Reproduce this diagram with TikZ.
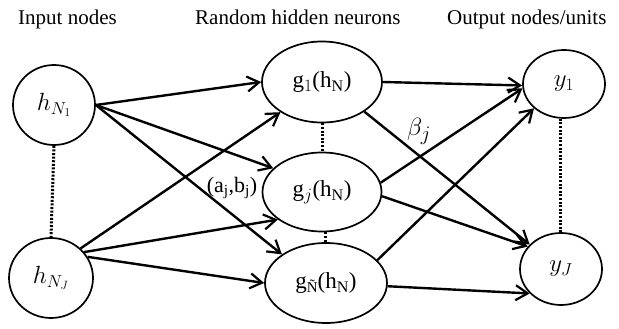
\documentclass[tikz,border=0pt]{standalone}
\usepackage{fontspec}
\setmainfont{Liberation Serif}
\usetikzlibrary{arrows.meta,shapes.geometric}
\begin{document}
\begin{tikzpicture}[x=1pt,y=-1pt,
  title/.style={inner sep=0pt,anchor=base west,font=\fontsize{21}{24}\selectfont},
  neuron/.style={draw,line width=1.7pt,ellipse,inner sep=0pt,font=\fontsize{23}{26}\selectfont},
  conn/.style={line width=2.4pt,-{Straight Barb[length=12pt,width=15pt,line width=2.2pt]}},
  dots/.style={line width=3pt,dash pattern=on 2pt off 1.6pt},
  lbl/.style={inner sep=0pt,font=\fontsize{23}{26}\selectfont}]
\useasboundingbox (0,0) rectangle (619,329);
\node[title] (t1) at (18,25) {Input nodes};
\node[title] (t2) at (195,25) {Random hidden neurons};
\node[title] (t3) at (447,25) {Output nodes/units};

\node[neuron,minimum width=82pt,minimum height=80pt] (h1) at (54,105) {\fontsize{26}{28}\selectfont$h_{N_1}$};
\node[neuron,minimum width=84pt,minimum height=80pt] (hJ) at (51,278) {\fontsize{26}{28}\selectfont$h_{N_J}$};

\node[neuron,minimum width=120pt,minimum height=81pt] (g1) at (322,82) {g$_1$(h$_{\mathrm{N}}$)};
\node[neuron,minimum width=119pt,minimum height=79pt] (gj) at (322,192) {g$_j$(h$_{\mathrm{N}}$)};
\node[neuron,minimum width=122pt,minimum height=80pt] (gN) at (326,283) {g\raisebox{-4pt}{\fontsize{15}{15}\selectfont Ñ}(h$_{\mathrm{N}}$)};

\node[neuron,minimum width=82pt,minimum height=68pt] (y1) at (564,84) {\fontsize{26}{28}\selectfont$y_1$};
\node[neuron,minimum width=82pt,minimum height=72pt] (yJ) at (561,269) {\fontsize{26}{28}\selectfont$y_J$};

\draw[dots] (h1.south) -- (hJ.north);
\draw[dots] (g1.south) -- (gj.north);
\draw[dots] ([xshift=3pt]gj.south) -- ([xshift=-1pt]gN.north);
\draw[dots] ([xshift=-4pt]y1.south) -- ([xshift=-1pt]yJ.north);

\draw[conn] (h1.east) -- (g1.west);
\draw[conn] (h1.east) -- (gj.154);
\draw[conn] (h1.east) -- (gN.147);
\draw[conn] (hJ.45) -- (g1.216);
\draw[conn] (hJ.38) -- (gj.212);
\draw[conn] (hJ.30) -- (gN.west);

\draw[conn] (g1.east) -- (y1.182);
\draw[conn] (g1.-35) -- (yJ.142);
\draw[conn] (gj.9) -- (y1.186);
\draw[conn] (gj.-4) -- (yJ.146);
\draw[conn] (gN.24) -- (y1.219);
\draw[conn] (gN.-3) -- (yJ.218);

\node[lbl] (beta) at (419,131) {\fontsize{30}{32}\selectfont$\beta_j$};
\node[lbl] (ab) at (232,188) {\fontsize{22}{24}\selectfont(a$_{\mathrm{j}}$,b$_{\mathrm{j}}$)};
\end{tikzpicture}
\end{document}
